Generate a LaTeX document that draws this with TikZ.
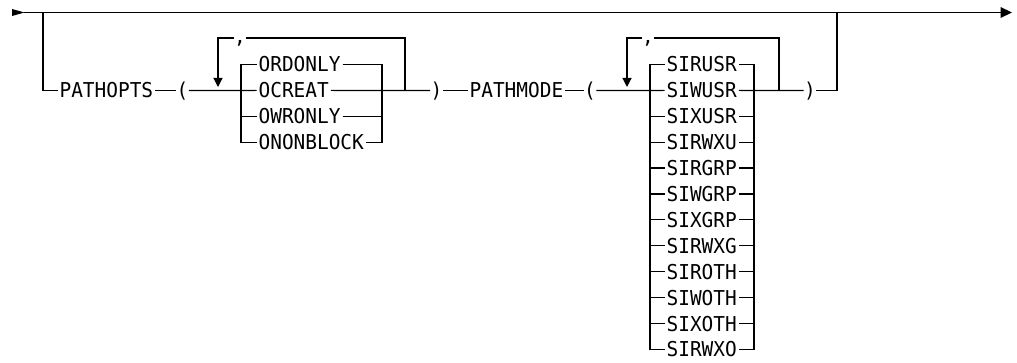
\documentclass[tikz,border=0pt]{standalone}
\usepackage{fontspec}
\newfontfamily\diagfont[FakeStretch=0.948]{DejaVu Sans Mono}
\usetikzlibrary{arrows.meta}
\begin{document}
\begin{tikzpicture}[x=1pt,y=-1pt,line width=1.2pt,
  lbl/.style={inner xsep=1.5pt,inner ysep=0pt,text height=15pt,text depth=0pt,
    font=\diagfont\fontsize{20.5}{25}\selectfont,anchor=west},
  par/.style={inner xsep=0pt,inner ysep=0pt,text height=15pt,text depth=0pt,
    font=\diagfont\fontsize{20.5}{25}\selectfont,anchor=center},
  cma/.style={inner sep=0pt,font=\diagfont\fontsize{20.5}{25}\selectfont,anchor=base},
  downarr/.style={-{Triangle[width=9pt,length=9pt]}}]
\useasboundingbox (0,0) rectangle (1017,363);
% main line
\coordinate (st) at (24,12.5);
\coordinate (en) at (1001,12.5);
\coordinate (b1) at (43,12.5);
\coordinate (b2) at (837,12.5);
\fill (12,9) -- (24.5,12.5) -- (12,16) -- cycle;
\fill (1000.5,7) -- (1012,12.5) -- (1000.5,18) -- cycle;
\draw (st) -- (en);
\def\rb{90.5}
% first group
\node[lbl] (pathopts) at (57.5,\rb) {PATHOPTS};
\node[par] (lpa) at (182.5,\rb) {(};
\draw (b1) |- (pathopts.west);
\draw (pathopts.east) -- (lpa.west);
\coordinate (l1l) at (218,38);
\coordinate (l1r) at (405,38);
\node[cma] (ca) at (240,44) {,};
\node[lbl] (ordonly) at (256.5,64.5) {ORDONLY};
\node[lbl] (ocreat) at (256.5,90.4) {OCREAT};
\node[lbl] (owronly) at (256.5,116.3) {OWRONLY};
\node[lbl] (ononblock) at (256.5,142.2) {ONONBLOCK};
\coordinate (c1l) at (241,64.5);
\coordinate (c1r) at (382,64.5);
\node[par] (rpa) at (436.5,\rb) {)};
\draw (ordonly.west) -- (ordonly.west -| c1l) -- (ononblock.west -| c1l) -- (ononblock.west);
\draw (ordonly.east) -- (ordonly.east -| c1r) -- (ononblock.east -| c1r) -- (ononblock.east);
\draw (owronly.west -| c1l) -- (owronly.west);
\draw (owronly.east) -- (owronly.east -| c1r);
\draw (lpa.east) -- (ocreat.west);
\draw (ocreat.east) -- (rpa.west);
\draw[downarr] (ca.west |- l1l) -- (l1l) -- (218,87);
\draw (ca.east |- l1r) -- (l1r) -- (405,90.5);
% PATHMODE
\node[lbl] (pathmode) at (467.5,\rb) {PATHMODE};
\node[par] (lpb) at (590,\rb) {(};
\draw (rpa.east) -- (pathmode.west);
\draw (pathmode.east) -- (lpb.west);
% second group
\coordinate (l2l) at (627,38);
\coordinate (l2r) at (779,38);
\node[cma] (cb) at (648,44) {,};
\coordinate (c2l) at (650,64.5);
\coordinate (c2r) at (754,64.5);
\foreach \t [count=\i from 0] in {SIRUSR,SIWUSR,SIXUSR,SIRWXU,SIRGRP,SIWGRP,SIXGRP,SIRWXG,SIROTH,SIWOTH,SIXOTH,SIRWXO}
  \node[lbl] (s\i) at (664.5,64.5+25.9*\i) {\t};
\node[par] (rpb) at (810,\rb) {)};
\draw (s0.west) -- (s0.west -| c2l) -- (s11.west -| c2l) -- (s11.west);
\draw (s0.east) -- (s0.east -| c2r) -- (s11.east -| c2r) -- (s11.east);
\foreach \i in {2,...,10}{
  \draw (s\i.west -| c2l) -- (s\i.west);
  \draw (s\i.east) -- (s\i.east -| c2r);
}
\draw (lpb.east) -- (s1.west);
\draw (s1.east) -- (rpb.west);
\draw[downarr] (cb.west |- l2l) -- (l2l) -- (627,87);
\draw (cb.east |- l2r) -- (l2r) -- (779,90.5);
\draw (rpb.east) -- (rpb.east -| b2) -- (b2);
\end{tikzpicture}
\end{document}
